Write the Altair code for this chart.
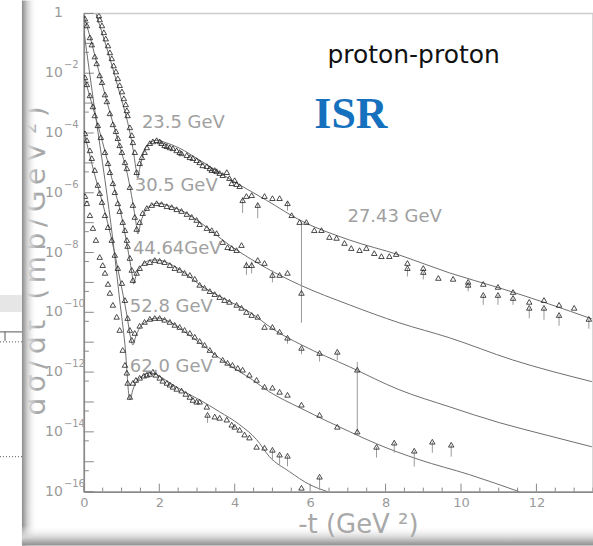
import altair as alt
import pandas as pd

# ---------------- data (t in GeV^2, values given as log10 of dsigma/dt in mb/GeV^2, incl. display offsets) ----------------
# 23.5 GeV (x1)
s235_t = [0.40,0.42,0.48,0.53,0.58,0.64,0.69,0.74,0.79,0.85,0.90,0.95,1.01,1.06,1.11,1.14,1.16,1.22,1.27,1.30,1.35,1.40,
          1.48,1.54,1.61,1.67,1.75,1.83,1.93,2.01,2.06,2.14,2.20,2.28,2.36,2.46,2.54,2.59,2.73,2.81,2.89,2.99,3.07,3.15,
          3.26,3.34,3.39,3.47,3.52,3.60,3.68,3.79,3.86,3.92,4.00,4.05,4.13,4.21,4.31,4.45,4.61,4.79,5.00,5.19,5.40,5.51,5.72,5.90]
s235_lg = [-0.07,-0.20,-0.40,-0.63,-0.84,-1.07,-1.30,-1.50,-1.74,-1.94,-2.17,-2.40,-2.61,-2.84,-3.04,-3.24,-3.41,-3.81,-4.07,-4.31,-4.64,-5.31,
           -5.01,-4.81,-4.64,-4.48,-4.34,-4.28,-4.24,-4.28,-4.34,-4.41,-4.44,-4.48,-4.51,-4.58,-4.64,-4.68,-4.74,-4.81,-4.84,-4.91,-4.98,-5.08,
           -5.11,-5.18,-5.24,-5.24,-5.28,-5.34,-5.41,-5.31,-5.51,-5.68,-5.58,-5.71,-5.78,-6.25,-6.11,-6.08,-6.41,-6.11,-6.18,-6.18,-6.35,-6.75,-6.98,-6.98]
# 27.43 GeV (x1, large |t|)
s2743_t = [6.11,6.30,6.51,6.70,6.91,7.09,7.31,7.49,7.70,7.89,8.10,8.28,8.58,8.58,9.00,9.00,9.40,9.79,10.19,10.19,
           10.59,10.59,10.98,10.98,11.38,11.38,11.81,11.81,12.20,12.20,12.60,12.60,13.00,13.39]
s2743_lg = [-7.25,-7.25,-7.48,-7.51,-7.68,-7.85,-7.92,-7.85,-8.02,-8.12,-8.12,-8.05,-8.35,-8.52,-8.52,-8.65,-8.85,-8.88,-8.98,-9.08,
            -9.05,-9.42,-9.15,-9.42,-9.32,-9.52,-9.65,-9.85,-9.59,-9.85,-9.75,-10.09,-9.85,-10.22]
# 30.5 GeV (x1e-2)
s305_t = [0.03,0.08,0.16,0.21,0.29,0.34,0.42,0.48,0.56,0.61,0.69,0.77,0.85,0.90,0.95,1.01,1.09,1.14,1.22,1.30,1.35,1.40,
          1.48,1.56,1.67,1.80,1.93,2.06,2.20,2.33,2.46,2.59,2.73,2.86,2.99,3.07,3.26,3.39,3.52,3.68,3.81,3.92,4.05,4.18,
          4.31,4.45,4.61,4.79,5.00,5.19,5.40,5.77]
s305_lg = [-0.17,-0.40,-0.80,-1.04,-1.44,-1.67,-2.07,-2.30,-2.71,-2.94,-3.34,-3.71,-3.94,-4.17,-4.41,-4.64,-4.98,-5.18,-5.81,-6.41,-6.81,-7.21,
           -6.98,-6.68,-6.51,-6.41,-6.35,-6.38,-6.45,-6.48,-6.55,-6.61,-6.71,-6.81,-6.91,-7.05,-7.18,-7.25,-7.35,-7.65,-7.82,-7.85,-7.92,-7.75,
           -8.42,-8.42,-8.25,-8.35,-8.75,-8.75,-8.68,-9.35]
# 44.64 GeV (x1e-4)
s4464_t = [0.03,0.08,0.16,0.24,0.29,0.37,0.45,0.56,0.64,0.69,0.77,0.82,0.90,0.95,1.03,1.09,1.14,1.16,1.22,1.27,1.30,
           1.40,1.48,1.61,1.75,1.88,2.01,2.14,2.28,2.41,2.54,2.67,2.81,2.94,3.07,3.20,3.34,3.47,3.60,3.73,3.86,4.05,4.18,
           4.31,4.45,4.61,4.79,5.00,5.19,5.40,5.77,6.25,6.72,7.25]
s4464_lg = [-2.14,-2.37,-2.74,-3.11,-3.41,-3.74,-4.14,-4.64,-5.01,-5.31,-5.68,-5.98,-6.35,-6.61,-6.98,-7.25,-7.58,-7.78,-8.18,-8.58,-8.92,
            -8.68,-8.52,-8.35,-8.32,-8.25,-8.28,-8.32,-8.42,-8.52,-8.58,-8.68,-8.75,-8.88,-9.08,-9.18,-9.29,-9.39,-9.49,-9.59,-9.65,-9.75,-9.85,
            -9.99,-10.09,-10.15,-10.49,-10.49,-10.65,-10.85,-11.19,-11.36,-11.32,-11.92]
# 52.8 GeV (x1e-6)
s528_t = [0.03,0.08,0.16,0.21,0.29,0.37,0.42,0.48,0.56,0.64,0.74,0.82,0.90,1.01,1.09,1.16,1.22,1.27,
          1.35,1.48,1.61,1.75,1.88,2.01,2.14,2.28,2.41,2.54,2.67,2.81,2.94,3.07,3.20,3.34,3.47,3.68,3.81,3.94,
          4.08,4.21,4.39,4.58,4.79,5.00,5.19,5.40,5.77,6.25,6.72,7.25,7.76,8.23,8.76,9.24,9.74]
s528_lg = [-4.01,-4.24,-4.58,-4.84,-5.24,-5.74,-6.01,-6.31,-6.75,-7.15,-7.58,-8.08,-8.52,-9.02,-9.59,-10.19,-10.59,-10.92,
           -10.69,-10.45,-10.32,-10.22,-10.19,-10.19,-10.25,-10.32,-10.42,-10.49,-10.59,-10.69,-10.82,-10.96,-11.09,-11.26,-11.42,-11.59,-11.69,-11.76,
           -11.86,-11.92,-12.09,-12.26,-12.49,-12.52,-12.66,-12.76,-13.09,-13.43,-13.83,-13.99,-14.50,-14.36,-14.63,-14.33,-14.43]
# 62.0 GeV (x1e-8)
s620_t = [0.03,0.08,0.16,0.24,0.32,0.42,0.50,0.56,0.64,0.69,0.77,0.87,0.95,1.03,1.09,1.14,1.16,1.22,
          1.30,1.38,1.48,1.59,1.67,1.75,1.83,1.91,2.01,2.09,2.20,2.28,2.36,2.46,2.59,2.70,2.81,2.89,2.99,3.07,
          3.26,3.28,3.47,3.60,3.79,3.92,4.00,4.13,4.26,4.39,4.58,4.79,5.00,5.19,5.40,5.77,6.25]
s620_lg = [-6.11,-6.35,-6.75,-7.18,-7.58,-8.15,-8.42,-8.68,-9.05,-9.35,-9.75,-10.15,-10.59,-11.26,-11.76,-12.02,-12.36,-12.83,
           -12.36,-12.26,-12.19,-12.12,-12.09,-12.06,-11.99,-12.09,-12.19,-12.29,-12.36,-12.42,-12.49,-12.56,-12.62,-12.73,-12.83,-12.93,-12.99,-12.99,
           -13.16,-13.43,-13.49,-13.53,-13.59,-13.76,-13.83,-13.93,-14.09,-14.19,-14.50,-14.53,-14.60,-14.76,-14.80,-15.87,-15.50]

# error bars (t, log10 low end, log10 high end)
err_t =  [4.21, 4.61, 5.40, 5.77, 4.31, 4.45, 5.00, 5.40, 5.77, 6.25, 6.72, 7.25, 7.76, 8.23, 8.76, 9.24, 9.74,
          3.28, 5.00, 5.19, 5.40, 6.25, 8.58, 9.00, 10.19, 10.59, 10.98, 11.38, 11.81, 12.20, 12.60, 13.39]
err_a = [-6.15, -6.35, -6.30, -6.98, -8.30, -8.30, -8.60, -10.85, -11.19, -11.36, -11.32, -11.66, -14.50, -14.36, -14.63, -14.33, -14.43,
         -13.43, -14.60, -14.76, -14.80, -15.50, -8.52, -8.65, -9.08, -9.42, -9.42, -9.52, -9.85, -9.85, -10.09, -10.22]
err_b = [-6.68, -6.85, -6.60, -10.35, -8.75, -8.70, -9.00, -11.05, -11.40, -11.65, -11.60, -14.09, -14.86, -14.70, -15.16, -14.70, -14.83,
         -13.70, -14.95, -15.10, -15.15, -15.95, -8.80, -8.90, -9.30, -9.75, -9.75, -9.75, -10.20, -10.25, -10.45, -10.55]

# model curves
cA_t = [0.32,0.42,0.69,0.95,1.16,1.30,1.38,1.43,1.48,1.61,1.75,1.93,2.14,2.54,3.07,3.92,4.84,5.72,7.04,8.36,9.69,11.01,12.33,13.47]
cA_lg = [0.00,-0.40,-1.50,-2.67,-3.64,-4.51,-5.18,-5.51,-5.18,-4.58,-4.34,-4.24,-4.31,-4.51,-4.91,-5.58,-6.25,-6.91,-7.58,-8.08,-8.68,-9.18,-9.72,-10.22]
cB_t = [0.00,0.16,0.42,0.69,0.95,1.16,1.30,1.38,1.43,1.51,1.64,1.80,1.96,2.28,2.67,3.07,3.86,4.84,5.72,7.04,8.36,9.69,11.36,13.47]
cB_lg = [-0.07,-0.77,-2.04,-3.31,-4.44,-5.41,-6.35,-6.98,-7.38,-6.98,-6.58,-6.41,-6.35,-6.45,-6.65,-6.98,-7.75,-8.52,-9.08,-9.75,-10.35,-10.85,-11.59,-12.32]
cC_t = [0.00,0.29,0.56,0.82,1.01,1.16,1.27,1.32,1.38,1.48,1.64,1.80,1.96,2.28,2.67,3.07,3.73,4.39,5.05,5.77,7.04,8.36,9.69,11.01,12.33,13.47]
cC_lg = [-2.07,-3.37,-4.61,-5.91,-6.85,-7.85,-8.65,-9.05,-8.78,-8.52,-8.32,-8.25,-8.25,-8.38,-8.68,-9.08,-9.55,-9.99,-10.59,-11.09,-11.82,-12.59,-13.16,-13.69,-14.13,-14.50]
cD_t = [0.00,0.29,0.56,0.74,0.95,1.14,1.24,1.30,1.38,1.48,1.64,1.80,1.96,2.28,2.67,3.07,3.73,4.47,4.92,5.72,7.04,7.76,8.89,10.22,11.54]
cD_lg = [-3.94,-5.41,-6.65,-7.58,-8.85,-10.09,-10.85,-11.09,-10.79,-10.52,-10.32,-10.22,-10.19,-10.32,-10.65,-11.02,-11.66,-12.26,-12.66,-13.19,-13.99,-14.40,-14.93,-15.43,-16.00]
cE_t = [0.00,0.29,0.56,0.77,0.95,1.09,1.22,1.30,1.40,1.56,1.75,1.93,2.28,2.67,3.07,3.60,4.13,4.58,4.92,5.45,5.98,6.46]
cE_lg = [-0.57,-3.24,-5.58,-7.58,-9.59,-11.09,-12.93,-12.59,-12.32,-12.12,-12.02,-12.09,-12.36,-12.66,-12.93,-13.33,-13.76,-14.26,-14.83,-15.33,-15.76,-16.00]

# energy labels
lab_text = ["23.5 GeV", "30.5 GeV", "44.64GeV", "52.8 GeV", "62.0 GeV", "27.43 GeV"]
lab_t = [1.54, 1.35, 1.30, 1.22, 1.22, 6.99]
lab_lg = [-3.66, -5.79, -7.87, -9.82, -11.82, -6.80]

# axis tick labels
ytick_exp = [0, -2, -4, -6, -8, -10, -12, -14, -16]
ydecades = [0, -1, -2, -3, -4, -5, -6, -7, -8, -9, -10, -11, -12, -13, -14, -15, -16]
xtick_major = [0, 2, 4, 6, 8, 10, 12]
xtick_minor = [0.5, 1, 1.5, 2.5, 3, 3.5, 4.5, 5, 5.5, 6.5, 7, 7.5, 8.5, 9, 9.5, 10.5, 11, 11.5, 12.5, 13, 13.5]

# ---------------- build tables ----------------
def table(t, lg, name):
    return pd.DataFrame({"t": t, "v": [10.0 ** x for x in lg], "set": name, "i": range(len(t))})

pts = pd.concat([table(s235_t, s235_lg, "23.5"), table(s2743_t, s2743_lg, "27.43"),
                 table(s305_t, s305_lg, "30.5"), table(s4464_t, s4464_lg, "44.64"),
                 table(s528_t, s528_lg, "52.8"), table(s620_t, s620_lg, "62.0")])
curves = pd.concat([table(cA_t, cA_lg, "A"), table(cB_t, cB_lg, "B"), table(cC_t, cC_lg, "C"),
                    table(cD_t, cD_lg, "D"), table(cE_t, cE_lg, "E")])
errs = pd.DataFrame({"t": err_t, "lo": [10.0 ** x for x in err_a], "hi": [10.0 ** x for x in err_b]})
labs = pd.DataFrame({"t": lab_t, "v": [10.0 ** x for x in lab_lg], "txt": lab_text})
ylabs = pd.DataFrame({"v": [10.0 ** e for e in ytick_exp],
                      "base": ["1" if e == 0 else "10" for e in ytick_exp],
                      "ex": ["" if e == 0 else "\u2212" + str(-e) for e in ytick_exp]})
ymaj = pd.DataFrame({"v": [10.0 ** e for e in ydecades]})
ymin = pd.DataFrame({"v": [5 * 10.0 ** e for e in ydecades[1:]]})
xmaj = pd.DataFrame({"t": xtick_major})
xmin = pd.DataFrame({"t": xtick_minor})
one = pd.DataFrame({"a": [0]})

W, H = 510, 479
GRAY = "#9a9a9a"
TS = "\u2009"  # thin space used to widen the title lettering
ytitle = TS.join(list("d\u03c3/dt (mb/GeV")) + " \u00b2" + TS + ")"

xs = alt.Scale(domain=[0, 13.5], nice=False, zero=False)
ys = alt.Scale(type="log", domain=[1e-16, 1], nice=False)
x_axis = alt.Axis(values=xtick_major, ticks=False, grid=False, domainColor="#8a8a8a", domainWidth=1.5,
                  labelColor=GRAY, labelFont="DejaVu Sans", labelFontSize=13, labelPadding=5,
                  labelFlush=False, title=None)
y_axis = alt.Axis(labels=False, ticks=False, grid=False, domainColor="#8a8a8a", domainWidth=1.5, title=None)
X = alt.X("t:Q", scale=xs, axis=x_axis, title=None)
Y = alt.Y("v:Q", scale=ys, axis=y_axis, title=None)

layers = []

# y-axis title (drawn under the frame shadow)
layers.append(alt.Chart(one).mark_text(text=ytitle, angle=270, fontSize=28, font="DejaVu Sans",
                                        color="#a8a8a8", align="center", baseline="middle")
              .encode(x=alt.value(-47), y=alt.value(248)))

# frame shadows and slide remnants
left_grad = alt.Gradient(gradient="linear", x1=0, x2=1, y1=0, y2=0,
                         stops=[alt.GradientStop(color="#8c8c8c", offset=0),
                                alt.GradientStop(color="#cfcfcf", offset=0.35),
                                alt.GradientStop(color="rgba(255,255,255,0)", offset=1)])
bot_grad = alt.Gradient(gradient="linear", x1=0, x2=0, y1=0, y2=1,
                        stops=[alt.GradientStop(color="rgba(255,255,255,0)", offset=0),
                               alt.GradientStop(color="#d4d4d4", offset=0.6),
                               alt.GradientStop(color="#8c8c8c", offset=1)])
layers.append(alt.Chart(one).mark_rect(color=left_grad).encode(
    x=alt.value(-62), x2=alt.value(-47), y=alt.value(-13), y2=alt.value(533)))
layers.append(alt.Chart(one).mark_rect(color=bot_grad).encode(
    x=alt.value(-62), x2=alt.value(520), y=alt.value(513), y2=alt.value(533)))
layers.append(alt.Chart(one).mark_rect(color="#e6e6e6").encode(
    x=alt.value(-84), x2=alt.value(-62), y=alt.value(282), y2=alt.value(299)))
layers.append(alt.Chart(one).mark_rule(color="#555555", strokeWidth=1).encode(
    x=alt.value(-84), x2=alt.value(-62), y=alt.value(319)))
layers.append(alt.Chart(one).mark_rule(color="#555555", strokeWidth=1).encode(
    x=alt.value(-79), y=alt.value(319), y2=alt.value(328)))
layers.append(alt.Chart(pd.DataFrame({"yy": [329, 444]})).mark_rule(color="#555555", strokeWidth=1, strokeDash=[1, 2]).encode(
    x=alt.value(-84), x2=alt.value(-62), y=alt.Y("yy:Q", scale=None)))

# inward ticks
layers.append(alt.Chart(ymaj).mark_rule(color="#8a8a8a", strokeWidth=1).encode(y=Y, x=alt.value(0), x2=alt.value(10)))
layers.append(alt.Chart(ymin).mark_rule(color="#8a8a8a", strokeWidth=1).encode(y=Y, x=alt.value(0), x2=alt.value(5)))
layers.append(alt.Chart(xmaj).mark_rule(color="#8a8a8a", strokeWidth=1).encode(x=X, y=alt.value(H), y2=alt.value(H - 8)))
layers.append(alt.Chart(xmin).mark_rule(color="#8a8a8a", strokeWidth=1).encode(x=X, y=alt.value(H), y2=alt.value(H - 4)))

# y tick labels as 10 with raised exponent
layers.append(alt.Chart(ylabs).mark_text(align="right", baseline="middle", fontSize=14, font="DejaVu Sans", color=GRAY)
              .encode(x=alt.value(-21), y=Y, text="base:N"))
layers.append(alt.Chart(ylabs).mark_text(align="left", baseline="middle", fontSize=10, font="DejaVu Sans", color=GRAY, dy=-8)
              .encode(x=alt.value(-20), y=Y, text="ex:N"))

# model curves
layers.append(alt.Chart(curves).mark_line(color="#6e6e6e", strokeWidth=1, interpolate="monotone", clip=True)
              .encode(x=X, y=Y, detail="set:N", order="i:Q"))
# error bars
layers.append(alt.Chart(errs).mark_rule(color="#9a9a9a", strokeWidth=1, clip=True)
              .encode(x=X, y=alt.Y("lo:Q", scale=ys, axis=y_axis, title=None), y2="hi:Q"))
# data points
layers.append(alt.Chart(pts).mark_point(shape="triangle-up", filled=False, size=30, strokeWidth=0.8, color="#1e1e1e", opacity=1, clip=True)
              .encode(x=X, y=Y))

# annotations
layers.append(alt.Chart(labs).mark_text(align="left", baseline="middle", fontSize=18, font="DejaVu Sans", color="#a0a0a0")
              .encode(x=X, y=Y, text="txt:N"))
layers.append(alt.Chart(pd.DataFrame({"t": [6.46], "v": [10.0 ** -1.67], "txt": ["proton-proton"]}))
              .mark_text(align="left", baseline="alphabetic", fontSize=25, font="DejaVu Sans", color="#111111")
              .encode(x=X, y=Y, text="txt:N"))
layers.append(alt.Chart(pd.DataFrame({"t": [6.11], "v": [10.0 ** -3.84], "txt": ["ISR"]}))
              .mark_text(align="left", baseline="alphabetic", fontSize=44, font="Liberation Serif", fontWeight="bold", color="#1570be")
              .encode(x=X, y=Y, text="txt:N"))
# x-axis title
layers.append(alt.Chart(one).mark_text(text="-t (GeV \u00b2)", fontSize=26, font="DejaVu Sans", color="#a8a8a8",
                                        align="center", baseline="middle")
              .encode(x=alt.value(275), y=alt.value(512)))

chart = (alt.layer(*layers)
         .properties(width=W, height=H, autosize=alt.AutoSizeParams(type="none"),
                     padding={"left": 84, "top": 13, "right": 0, "bottom": 54}, background="white")
         .configure_view(stroke="#cccccc", strokeWidth=1.5))

chart.save("out.html", embed_options={"renderer": "svg", "actions": False})
